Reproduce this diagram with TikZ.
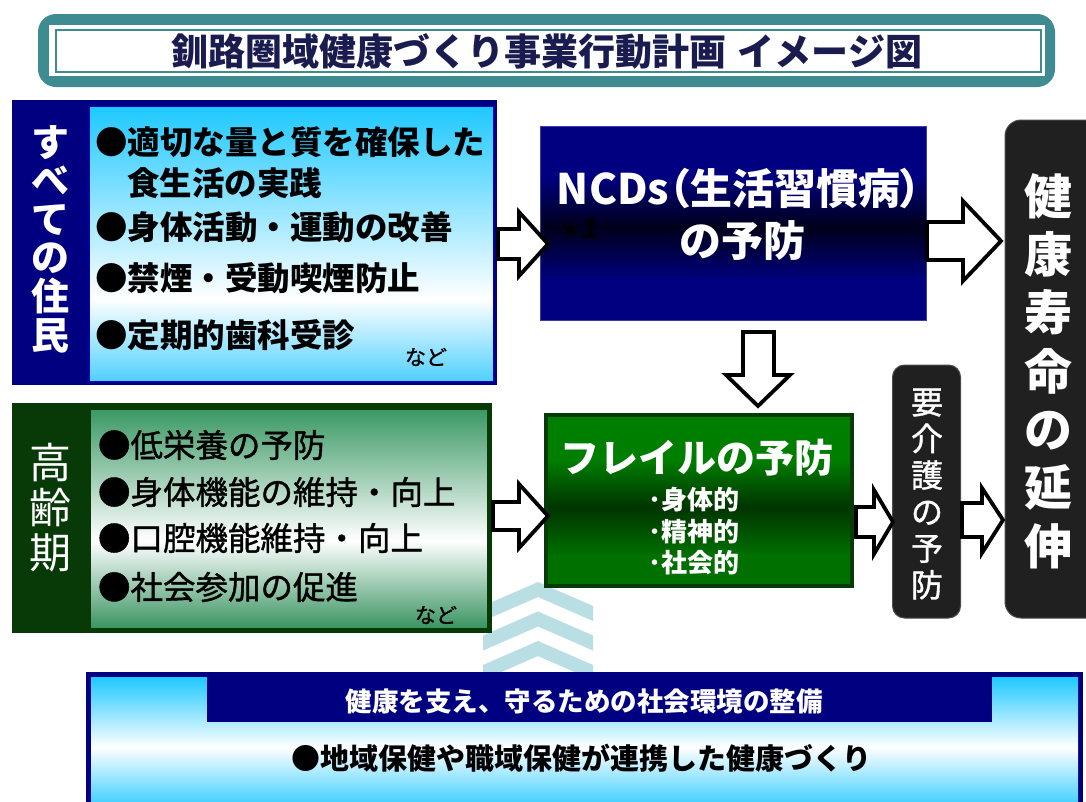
\documentclass[tikz,border=0pt]{standalone}
\usepackage{fontspec}
\setmainfont{Noto Sans CJK JP}
\newfontfamily\jpp[RawFeature=+palt]{Noto Sans CJK JP}
\newfontfamily\jpmed[FakeBold=1.2]{Noto Sans CJK JP}
\newfontfamily\libsans{Liberation Sans}
\usetikzlibrary{calc}
\definecolor{tealT}{RGB}{62,140,145}
\definecolor{titleC}{RGB}{26,28,80}
\definecolor{navyB}{RGB}{0,0,128}
\definecolor{navyD}{RGB}{0,0,26}
\definecolor{navyL}{RGB}{60,60,170}
\definecolor{cyanT}{RGB}{30,200,255}
\definecolor{cyanB}{RGB}{80,208,255}
\definecolor{cyanC}{RGB}{55,205,255}
\definecolor{dgreen}{RGB}{8,58,8}
\definecolor{mgreenT}{RGB}{58,152,100}
\definecolor{mgreenB}{RGB}{58,148,98}
\definecolor{fgreen}{RGB}{0,126,0}
\definecolor{fgreenD}{RGB}{0,52,0}
\definecolor{fgreenB}{RGB}{0,112,0}
\definecolor{darkbox}{RGB}{32,32,32}
\definecolor{darkedge}{RGB}{75,75,75}
\definecolor{chev}{RGB}{185,222,228}
\pgfdeclareverticalshading{tlshade}{100bp}{color(0bp)=(cyanB); color(25bp)=(cyanB); color(40bp)=(white); color(75bp)=(cyanT); color(100bp)=(cyanT)}
\pgfdeclareverticalshading{blshade}{100bp}{color(0bp)=(mgreenB); color(25bp)=(mgreenB); color(45bp)=(white); color(75bp)=(mgreenT); color(100bp)=(mgreenT)}
\pgfdeclareverticalshading{ncdshade}{100bp}{color(0bp)=(navyB); color(25bp)=(navyB); color(35bp)=(navyB); color(49bp)=(navyD); color(62bp)=(navyB); color(75bp)=(navyB); color(100bp)=(navyB)}
\pgfdeclareverticalshading{frshade}{100bp}{color(0bp)=(fgreenB); color(25bp)=(fgreenB); color(34bp)=(fgreenB); color(48bp)=(fgreenD); color(62bp)=(fgreen); color(75bp)=(fgreen); color(100bp)=(fgreen)}
\pgfdeclareverticalshading{btshade}{100bp}{color(0bp)=(cyanC); color(25bp)=(cyanC); color(48bp)=(white); color(75bp)=(cyanT); color(100bp)=(cyanT)}
\begin{document}
\begin{tikzpicture}[x=1pt,y=-1pt,
  every node/.style={inner sep=0pt,outer sep=0pt},
  arrowline/.style={draw=black,line width=3.8pt,line join=miter,fill=white},
  tlitem/.style={anchor=west,font=\bfseries\fontsize{32.5}{32.5}\selectfont,text=black},
  blitem/.style={anchor=west,font=\jpmed\fontsize{32.5}{32.5}\selectfont,text=black},
  nado/.style={font=\jpmed\fontsize{21}{21}\selectfont,text=black},
]
\useasboundingbox (0,0) rectangle (1086,801);
\fill[white] (0,0) rectangle (1086,801);

% title
\fill[tealT, rounded corners=18pt] (38,14) rectangle (1055,87);
\fill[white] (49,25) rectangle (1045,76);
\draw[tealT, line width=2pt] (56,30) rectangle (1041,72);
\node[font=\bfseries\fontsize{37}{37}\selectfont, text=titleC] (title) at (547,51) {釧路圏域健康づくり事業行動計画\hspace{0.3em}イメージ図};

% chevrons
\foreach \i in {0,1,2} {
  \pgfmathsetmacro\yy{582+29.5*\i}
  \fill[chev] (483,\yy+24) -- (538,\yy) -- (593,\yy+24) -- (593,\yy+39) -- (538,\yy+15) -- (483,\yy+39) -- cycle;
}

% top-left box
\node[fill=navyB, minimum width=485pt, minimum height=285pt] (tlo) at (254.5,242.5) {};
\node[shading=tlshade, draw=blue!80!black, line width=1pt, minimum width=404pt, minimum height=275pt] (tli) at (291,243.5) {};
\node[font=\bfseries\fontsize{38}{38.6}\selectfont, text=white, align=center] (tlv) at (50,239) {す\\べ\\て\\の\\住\\民};
\node[tlitem] (b1) at (95,142) {●適切な量と質を確保した};
\node[tlitem] (b1b) at (127,183) {食生活の実践};
\node[tlitem] (b2) at (95,227) {●身体活動・運動の改善};
\node[tlitem] (b3) at (95,278) {●禁煙・受動喫煙防止};
\node[tlitem] (b4) at (95,335) {●定期的歯科受診};
\node[nado] (nado1) at (426,357) {など};

% bottom-left box
\node[fill=dgreen, minimum width=480pt, minimum height=230pt] (blo) at (252,518) {};
\node[shading=blshade, draw=dgreen, line width=1pt, minimum width=397pt, minimum height=219pt] (bli) at (288.5,518.5) {};
\node[font=\fontsize{42}{45}\selectfont, text=white, align=center] (blv) at (50,508) {高\\齢\\期};
\node[blitem] (c1) at (98,445) {●低栄養の予防};
\node[blitem] (c2) at (98,492) {●身体機能の維持・向上};
\node[blitem] (c3) at (98,538) {●口腔機能維持・向上};
\node[blitem] (c4) at (98,587) {●社会参加の促進};
\node[nado] (nado2) at (436,615) {など};

% NCD box
\node[shading=ncdshade, draw=navyL, line width=1pt, minimum width=386pt, minimum height=194pt] (ncd) at (733,223) {};
\node[font=\jpp\bfseries\fontsize{42}{42}\selectfont, text=white] (ncd1) at (739,189) {NCDs（生活習慣病）};
\node[font=\bfseries\fontsize{42}{42}\selectfont, text=white] (ncd2) at (742,241) {の予防};
\node[anchor=west, text=black] (note) at (559,228) {{\bfseries\fontsize{22}{22}\selectfont ＊}{\libsans\bfseries\itshape\fontsize{30}{30}\selectfont 1}};

% frail box
\node[shading=frshade, draw=dgreen, line width=4pt, minimum width=306pt, minimum height=171pt] (fr) at (699,500.5) {};
\node[font=\bfseries\fontsize{39}{39}\selectfont, text=white] (fr1) at (697,458) {フレイルの予防};
\node[anchor=west, font=\bfseries\fontsize{26}{26}\selectfont, text=white] (fr2) at (648,500) {･身体的};
\node[anchor=west, font=\bfseries\fontsize{26}{26}\selectfont, text=white] (fr3) at (648,532) {･精神的};
\node[anchor=west, font=\bfseries\fontsize{26}{26}\selectfont, text=white] (fr4) at (648,563) {･社会的};

% care prevention box
\node[fill=darkbox, draw=darkedge, line width=1pt, rounded corners=12pt, minimum width=68pt, minimum height=253pt] (care) at (926.5,491.5) {};
\node[font=\jpmed\fontsize{32}{36.6}\selectfont, text=white, align=center] (carev) at (927,494) {要\\介\\護\\の\\予\\防};

% healthy life box
\node[fill=darkbox, draw=darkedge, line width=1pt, rounded corners=16pt, minimum width=110pt, minimum height=498pt] (life) at (1060,369) {};
\node[font=\bfseries\fontsize{48}{58.3}\selectfont, text=white, align=center] (lifev) at (1048,371) {健\\康\\寿\\命\\の\\延\\伸};

% bottom box
\node[fill=navyB, minimum width=997pt, minimum height=140pt] (bto) at (584.5,742) {};
\node[shading=btshade, minimum width=987pt, minimum height=130pt] (bti) at (584.5,742) {};
\node[fill=navyB, minimum width=785pt, minimum height=45pt] (btb) at (599.5,699) {};
\node[font=\bfseries\fontsize{26.5}{26.5}\selectfont, text=white] (bth) at (584,701) {健康を支え、守るための社会環境の整備};
\node[font=\bfseries\fontsize{29}{29}\selectfont, text=black] (btt) at (581.5,758) {●地域保健や職域保健が連携した健康づくり};

% block arrows
\draw[arrowline] (498,229) -- (519,229) -- (519,212) -- (548,244) -- (519,276) -- (519,259) -- (498,259) -- cycle;
\draw[arrowline] (493,502) -- (519,502) -- (519,484) -- (548,516) -- (519,548) -- (519,530) -- (493,530) -- cycle;
\draw[arrowline] (927,222) -- (963,222) -- (963,201) -- (1001,241) -- (963,281) -- (963,260) -- (927,260) -- cycle;
\draw[arrowline] (743,332) -- (774,332) -- (774,375) -- (790,375) -- (758,406) -- (726,375) -- (743,375) -- cycle;
\draw[arrowline] (856,507) -- (874,507) -- (874,490) -- (893,522) -- (874,554) -- (874,537) -- (856,537) -- cycle;
\draw[arrowline] (962,503) -- (982,503) -- (982,488) -- (1003,520) -- (982,553) -- (982,537) -- (962,537) -- cycle;
\end{tikzpicture}
\end{document}
